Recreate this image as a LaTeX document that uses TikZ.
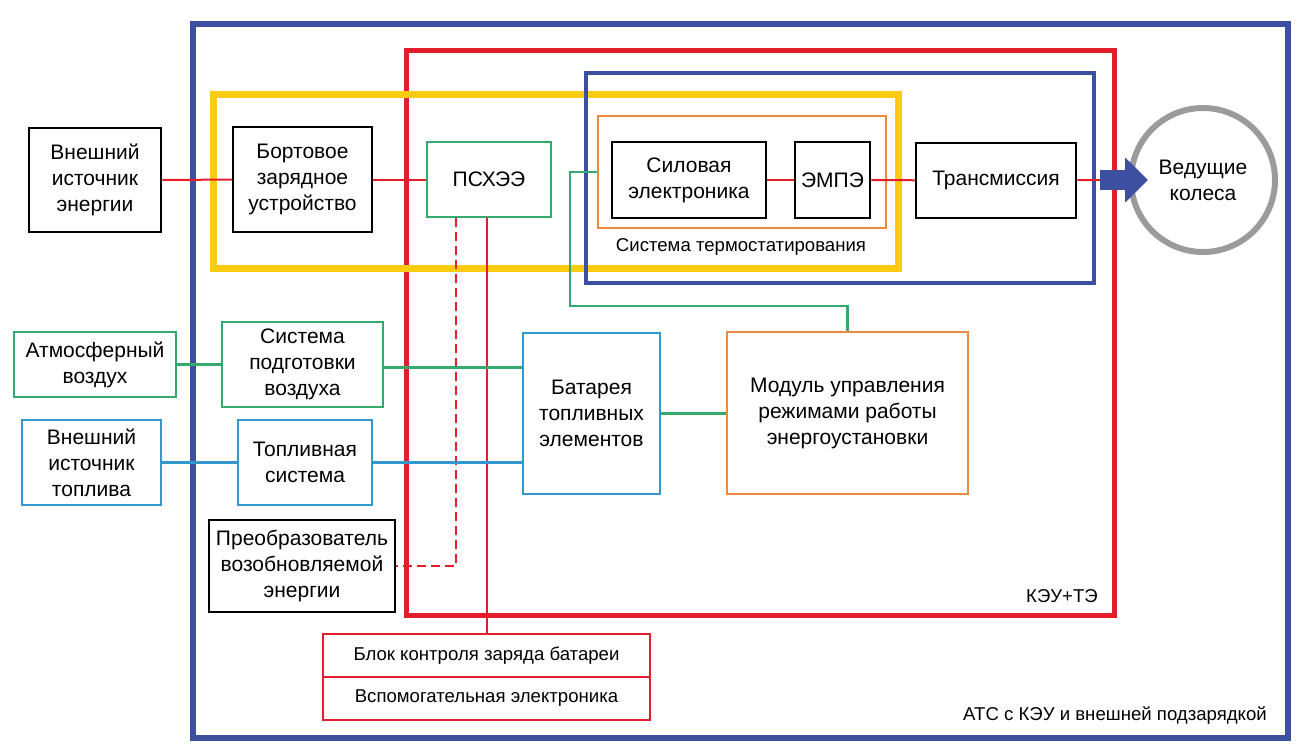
\documentclass[tikz,border=0pt]{standalone}
\usepackage{fontspec}
\setmainfont{Liberation Sans}
\usetikzlibrary{arrows.meta, positioning, calc}
\definecolor{frameblue}{HTML}{3D4FA1}
\definecolor{kured}{HTML}{E31E2A}
\definecolor{chgyellow}{HTML}{FCCB12}
\definecolor{airgreen}{HTML}{35AA6C}
\definecolor{fuelblue}{HTML}{3398CE}
\definecolor{ctrlorange}{HTML}{E98B3F}
\definecolor{wheelgray}{HTML}{9B9B9B}
\newcommand{\mainsz}{\fontsize{21}{26}\selectfont}
\newcommand{\smallsz}{\fontsize{18.6}{23}\selectfont}

\begin{document}
\begin{tikzpicture}[x=1pt, y=-1pt,
    blk/.style={draw, line width=2.5pt, fill=white, inner sep=2pt, align=center, font=\mainsz},
    gblk/.style={blk, draw=airgreen, line width=2pt},
    bblk/.style={blk, draw=fuelblue, line width=2pt},
    lbl/.style={inner sep=0pt, font=\smallsz},
    rline/.style={kured, line width=2pt},
    gline/.style={airgreen, line width=2.5pt},
    bline/.style={fuelblue, line width=2.5pt},
    bigarrow/.style={-{Triangle[length=23pt, width=44pt]}, line width=20pt, frameblue}
  ]
    \useasboundingbox (0,0) rectangle (1298,748);

    % Frames
    \draw[kured, line width=5pt] (406,50) rectangle (1114,615);
    \draw[chgyellow, line width=7pt] (213,94) rectangle (898,268);
    \draw[frameblue, line width=4pt] (586,73) rectangle (1094,283);
    \draw[frameblue, line width=6pt] (193,24) rectangle (1288,738);
    \node[draw=ctrlorange, line width=2.5pt, minimum width=288pt, minimum height=112pt] (thermo) at (742,172) {};

    % Frame labels
    \node[lbl] (thermolbl) at (741,247) {Система термостатирования};
    \node[lbl, anchor=east] (kelbl) at (1098,596) {КЭУ+ТЭ};
    \node[lbl, anchor=east] (atslbl) at (1267,716) {АТС с КЭУ и внешней подзарядкой};

    % Top row: charging and drive line
    \node[blk, minimum width=132pt, minimum height=104pt] (ext) at (95,180) {Внешний\\источник\\энергии};
    \node[blk, minimum width=139pt, minimum height=105pt] (charger) at (302.5,179.5) {Бортовое\\зарядное\\устройство};
    \node[gblk, minimum width=124pt, minimum height=75pt] (psh) at (489,179.5) {ПСХЭЭ};
    \node[blk, minimum width=154pt, minimum height=76pt] (power) at (689,180) {Силовая\\электроника};
    \node[blk, minimum width=75pt, minimum height=76pt] (emp) at (832.5,180) {ЭМПЭ};
    \node[blk, minimum width=160pt, minimum height=75pt] (trans) at (996,180.5) {Трансмиссия};
    \node[circle, draw=wheelgray, line width=6pt, minimum size=144pt, align=center, font=\mainsz] (wheel) at (1203,180) {Ведущие\\колеса};
    \coordinate (drv) at (1100,180);

    % Middle: air and fuel supply
    \node[gblk, minimum width=162pt, minimum height=65pt] (air) at (95,364.5) {Атмосферный\\воздух};
    \node[gblk, minimum width=161pt, minimum height=85pt] (airprep) at (302.5,364.5) {Система\\подготовки\\воздуха};
    \node[bblk, minimum width=139pt, minimum height=85pt] (fuelsrc) at (91.5,462.5) {Внешний\\источник\\топлива};
    \node[bblk, minimum width=134pt, minimum height=85pt] (fuelsys) at (305,462.5) {Топливная\\система};
    \node[bblk, minimum width=137pt, minimum height=161pt] (fc) at (591.5,413.5) {Батарея\\топливных\\элементов};
    \node[blk, draw=ctrlorange, line width=2pt, minimum width=241pt, minimum height=162pt] (ctrl) at (847.5,413) {Модуль управления\\режимами работы\\энергоустановки};

    % Bottom: renewable source and battery blocks
    \node[blk, minimum width=186pt, minimum height=92pt] (renew) at (302,566) {Преобразователь\\возобновляемой\\энергии};
    \node[blk, draw=kured, line width=2pt, minimum width=327pt, minimum height=43pt, font=\smallsz] (bms) at (486.5,655.5) {Блок контроля заряда батареи};
    \node[blk, draw=kured, line width=2pt, minimum width=327pt, minimum height=43pt, font=\smallsz] (aux) at (486.5,698.5) {Вспомогательная электроника};

    % Connectors
    \draw[rline] (ext) -- (charger);
    \draw[rline] (charger) -- (psh);
    \draw[rline] (power) -- (emp);
    \draw[rline] (emp) -- (trans);
    \draw[rline] (trans) -- (drv);
    \draw[bigarrow] (drv) -- ([xshift=20pt]wheel.west);
    \draw[rline] ([xshift=-2pt]psh.south) -- ([xshift=-2pt]psh.south |- bms.north);
    \draw[rline, dash pattern=on 9pt off 5pt] ([xshift=-33pt]psh.south) |- (renew.east);
    \draw[gline] (thermo.west) -- ++(-27,0) |- ([yshift=25pt]ctrl.north) -- (ctrl.north);
    \draw[gline] (air) -- (airprep);
    \draw[gline] ([yshift=-3pt]airprep.east) -- ([yshift=-3pt]airprep.east -| fc.west);
    \draw[gline] (fc.east) -- (fc.east -| ctrl.west);
    \draw[bline] (fuelsrc) -- (fuelsys);
    \draw[bline] (fuelsys) -- (fuelsys -| fc.west);
  \end{tikzpicture}
\end{document}
